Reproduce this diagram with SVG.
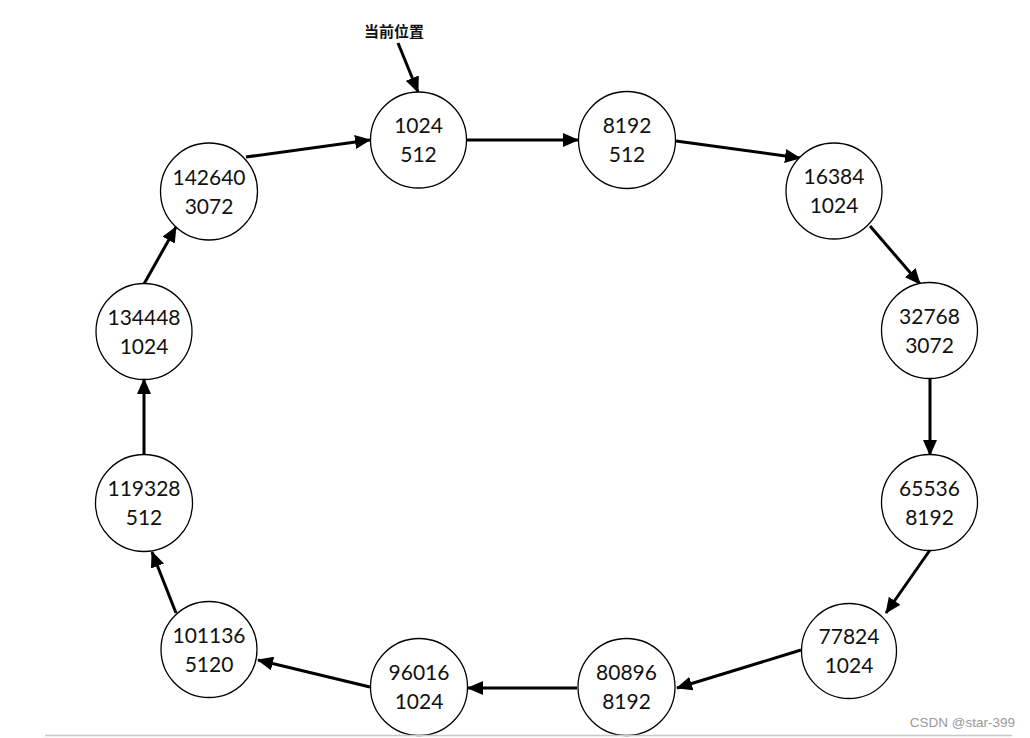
<svg xmlns="http://www.w3.org/2000/svg" width="1030" height="738" viewBox="0 0 1030 738">
<style>
.n circle{fill:#fff;stroke:#000;stroke-width:1.3}
.n text{font-family:Lato,"Open Sans","Liberation Sans",sans-serif;font-size:21px;fill:#111;text-anchor:middle}
.c line{stroke:#000;stroke-width:3;marker-end:url(#ah)}
</style>
<defs>
<marker id="ah" markerUnits="userSpaceOnUse" markerWidth="16" markerHeight="14" refX="15" refY="7" orient="auto">
<path d="M0,0 L16,7 L0,14 Z" fill="#000"/>
</marker>
</defs>
<rect width="1030" height="738" fill="#fff"/>
<text x="394" y="37" font-family="'Noto Sans CJK SC',sans-serif" font-size="15" font-weight="600" text-anchor="middle" fill="#111">当前位置</text>
<g class="c" id="connectors">
<line x1="398" y1="43" x2="418" y2="92"/>
<line x1="246" y1="157" x2="370" y2="140"/>
<line x1="467" y1="140" x2="578" y2="140"/>
<line x1="676" y1="141" x2="800" y2="158"/>
<line x1="870" y1="226" x2="920" y2="284"/>
<line x1="930" y1="378" x2="930" y2="455"/>
<line x1="930" y1="550" x2="886" y2="613"/>
<line x1="801" y1="650" x2="677" y2="688"/>
<line x1="577" y1="688" x2="468" y2="688"/>
<line x1="370" y1="687" x2="258" y2="660"/>
<line x1="176" y1="613" x2="152" y2="552"/>
<line x1="144" y1="455" x2="144" y2="379"/>
<line x1="144" y1="284" x2="176" y2="227"/>
</g>
<g class="n" id="n1"><circle cx="418.5" cy="140" r="48"/><text x="418.5" y="133">1024</text><text x="418.5" y="162">512</text></g>
<g class="n" id="n2"><circle cx="627" cy="140" r="48.5"/><text x="627" y="133">8192</text><text x="627" y="162">512</text></g>
<g class="n" id="n3"><circle cx="834" cy="191" r="48"/><text x="834" y="184">16384</text><text x="834" y="213">1024</text></g>
<g class="n" id="n4"><circle cx="929.5" cy="330.5" r="48"/><text x="929.5" y="324">32768</text><text x="929.5" y="353">3072</text></g>
<g class="n" id="n5"><circle cx="929.5" cy="502.5" r="48"/><text x="929.5" y="496">65536</text><text x="929.5" y="525">8192</text></g>
<g class="n" id="n6"><circle cx="849" cy="651" r="47.5"/><text x="849" y="644">77824</text><text x="849" y="673">1024</text></g>
<g class="n" id="n7"><circle cx="626.5" cy="687" r="48.5"/><text x="626.5" y="680">80896</text><text x="626.5" y="709">8192</text></g>
<g class="n" id="n8"><circle cx="419" cy="687" r="48.5"/><text x="419" y="680">96016</text><text x="419" y="709">1024</text></g>
<g class="n" id="n9"><circle cx="209" cy="649.5" r="48"/><text x="209" y="643">101136</text><text x="209" y="672">5120</text></g>
<g class="n" id="n10"><circle cx="144" cy="503" r="48.5"/><text x="144" y="496">119328</text><text x="144" y="525">512</text></g>
<g class="n" id="n11"><circle cx="144" cy="331.5" r="48"/><text x="144" y="325">134448</text><text x="144" y="354">1024</text></g>
<g class="n" id="n12"><circle cx="209" cy="191.5" r="48.5"/><text x="209" y="185">142640</text><text x="209" y="214">3072</text></g>
<line x1="45" y1="735.5" x2="1012" y2="735.5" stroke="#c8c8c8" stroke-width="1.5"/>
<text x="1015" y="727" font-family="'Liberation Sans',sans-serif" font-size="13.5" fill="#999" text-anchor="end">CSDN @star-399</text>
</svg>
